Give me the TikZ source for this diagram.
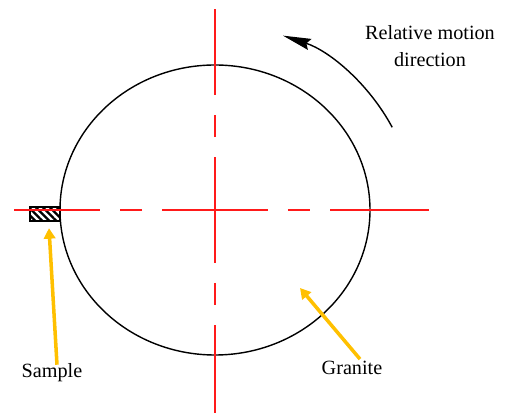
\documentclass[tikz,border=0pt]{standalone}
\usepackage{fontspec}
\setmainfont{Liberation Serif}
\usetikzlibrary{arrows.meta, patterns.meta, calc}

\definecolor{pointerorange}{HTML}{FFC000}
\definecolor{centrered}{HTML}{FF1A1A}

\begin{document}
\begin{tikzpicture}[
        x=0.02cm, y=0.02cm,
        centreline/.style={
            draw=centrered,
            line width=1.1pt,
            dash pattern=on 30pt off 11.5pt on 12.5pt off 11.5pt on 120pt
        },
        granite/.style={
            black,
            line width=0.8pt
        },
        samplebox/.style={
            draw=black,
            line width=0.9pt,
            fill=white,
            pattern={Lines[angle=-45, distance=2.8pt, line width=1.3pt]},
            minimum width=0.6cm,
            minimum height=0.28cm,
            inner sep=0pt
        },
        pointer/.style={
            -{Triangle[length=6pt, width=6.5pt]},
            line width=2pt,
            pointerorange
        },
        motionarrow/.style={
            -{Stealth[length=16pt, width=6.5pt, inset=2pt]},
            line width=0.8pt
        },
        caption/.style={
            font=\fontsize{11.5}{15.4}\selectfont,
            align=center,
            inner sep=1pt
        }
    ]

        \useasboundingbox (0,0) rectangle (505,-415);

        % ---------------------------------------------------------------------
        % Granite disc and sample
        % ---------------------------------------------------------------------

        \coordinate (centre)    at (215,-210);

        \draw[granite] (centre) ellipse [x radius=155, y radius=145];

        \node[samplebox] (sample) at (45,-214) {};

        % ---------------------------------------------------------------------
        % Centre lines
        % ---------------------------------------------------------------------

        \coordinate (topend)    at (215,-9);
        \coordinate (bottomend) at (215,-413);
        \coordinate (leftend)   at (14,-210);
        \coordinate (rightend)  at (429,-210);

        \draw[centreline] (centre) -- (leftend);
        \draw[centreline] (centre) -- (rightend);
        \draw[centreline] (centre) -- (topend);
        \draw[centreline] (centre) -- (bottomend);

        % ---------------------------------------------------------------------
        % Relative motion
        % ---------------------------------------------------------------------

        \coordinate (arcstart) at (392.2,-127.3);

        \draw[motionarrow]
            (arcstart) arc [start angle=28.2, end angle=71.8, radius=192];

        \node[caption] (motion) at (430,-46.5) {
            Relative motion\\
            direction
        };

        % ---------------------------------------------------------------------
        % Labels
        % ---------------------------------------------------------------------

        \node[caption] (samplelabel) at (52,-373) {Sample};

        \node[caption] (granitelabel) at (352,-368) {Granite};

        \coordinate (granitepoint) at (300,-288);

        \draw[pointer]
            ($(samplelabel.north)+(5,-3)$)
            --
            ($(sample.south)+(4,-6)$);

        \draw[pointer]
            ($(granitelabel.north)+(8,0)$)
            --
            (granitepoint);

    \end{tikzpicture}
\end{document}
